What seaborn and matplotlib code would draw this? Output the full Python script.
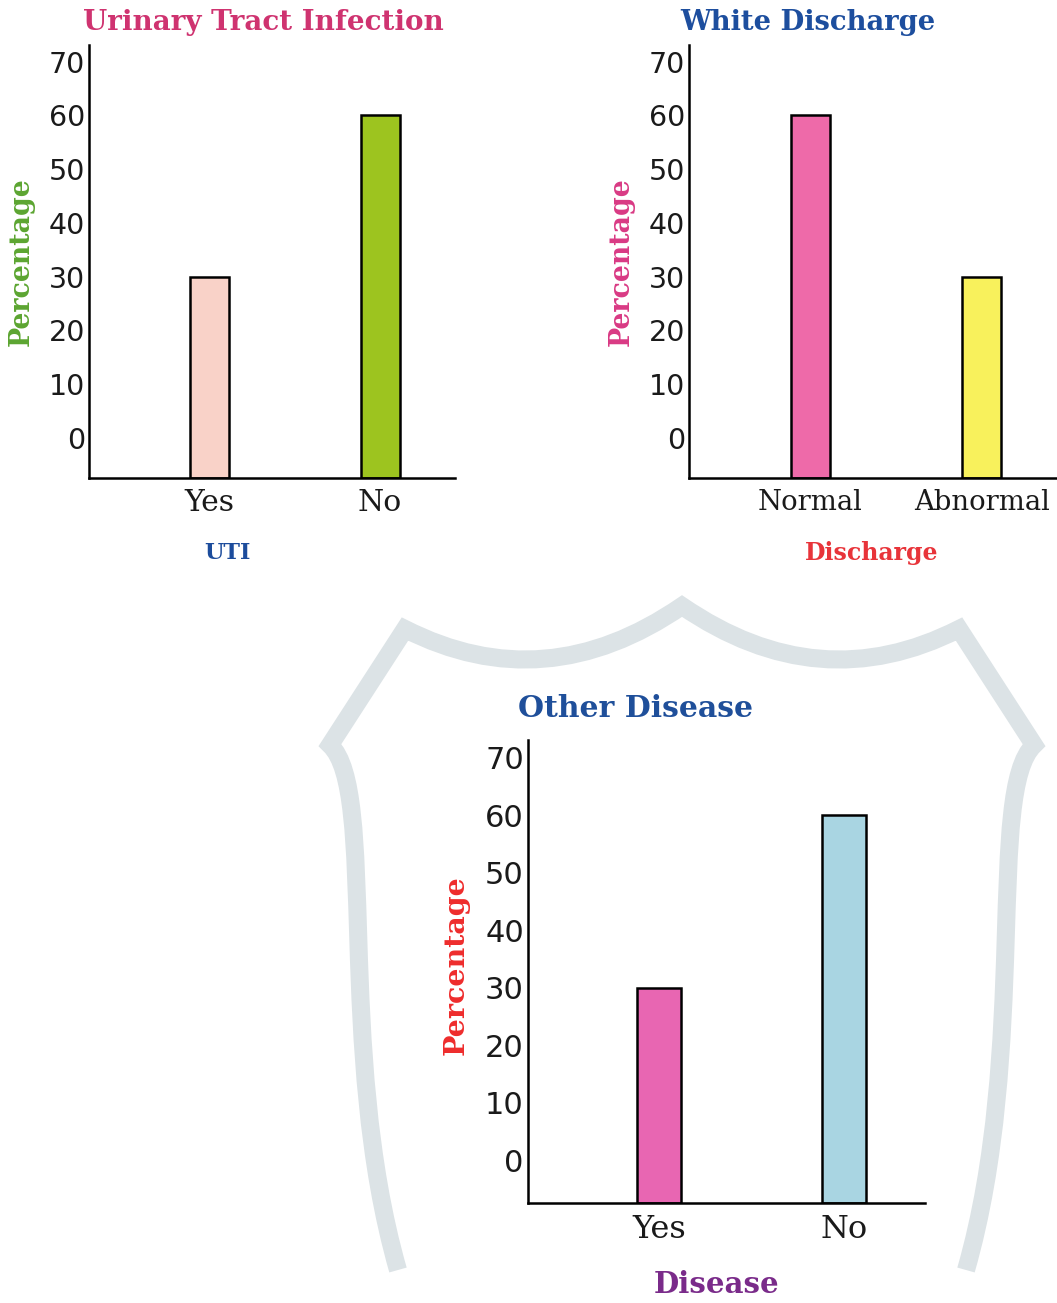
import matplotlib
matplotlib.use("Agg")
import matplotlib.pyplot as plt
import seaborn as sns
from matplotlib.path import Path
from matplotlib.patches import PathPatch

# data
uti_labels = ["Yes", "No"]
uti_values = [30, 60]
uti_colors = ["#f9d2c8", "#9dc41f"]

discharge_labels = ["Normal", "Abnormal"]
discharge_values = [60, 30]
discharge_colors = ["#ee6aa9", "#f8f15c"]

disease_labels = ["Yes", "No"]
disease_values = [30, 60]
disease_colors = ["#e866b2", "#a9d5e2"]

y_ticks = [0, 10, 20, 30, 40, 50, 60, 70]

W, H = 1057, 1303
sns.set_style("white")
fig = plt.figure(figsize=(W / 100, H / 100), dpi=100)


def px_axes(left, top, right, bottom):
    return fig.add_axes([left / W, 1 - bottom / H, (right - left) / W, (bottom - top) / H])


# light grey shield watermark behind the lower chart
def shield():
    def p(x, y):
        return (x / W, 1 - y / H)

    def m(x, y):
        return p(1364 - x, y)

    verts = [p(398, 1270), p(335, 1050), p(378, 790), p(330, 745),
             p(405, 629), p(545, 700), p(682, 606),
             m(545, 700), m(405, 629), m(330, 745),
             m(378, 790), m(335, 1050), m(398, 1270)]
    codes = [Path.MOVETO, Path.CURVE4, Path.CURVE4, Path.CURVE4,
             Path.LINETO, Path.CURVE3, Path.CURVE3,
             Path.CURVE3, Path.CURVE3, Path.LINETO,
             Path.CURVE4, Path.CURVE4, Path.CURVE4]
    patch = PathPatch(Path(verts, codes), transform=fig.transFigure, fill=False,
                      edgecolor="#dce3e6", lw=13, zorder=-5, capstyle="butt")
    fig.add_artist(patch)


shield()

YMIN, YMAX = -7.45, 73.1


def bar_panel(ax, labels, values, colors, width, sizes, title, title_color, title_xy,
              xlabel, xlabel_color, xlabel_xy, ylabel_color, ylabel_xy):
    ytick_fs, xtick_fs, title_fs, xlab_fs, ylab_fs = sizes
    heights = [v - YMIN for v in values]
    sns.barplot(x=labels, y=heights, hue=labels, palette=colors, legend=False,
                width=width, saturation=1, edgecolor="black", linewidth=1.8,
                bottom=YMIN, errorbar=None, ax=ax)
    ax.set_ylim(YMIN, YMAX)
    ax.set_xlim(-0.71, 1.44)
    ax.set_yticks(y_ticks)
    ax.set_yticklabels([str(t) for t in y_ticks], fontsize=ytick_fs, family="DejaVu Sans",
                       color="#1a1a1a")
    ax.set_xticks(range(len(labels)))
    ax.set_xticklabels(labels, fontsize=xtick_fs, family="DejaVu Serif", color="#1a1a1a")
    ax.tick_params(axis="y", direction="inout", length=6, width=1.2, pad=0)
    ax.tick_params(axis="x", length=0, pad=8)
    for s in ["top", "right"]:
        ax.spines[s].set_visible(False)
    for s in ["left", "bottom"]:
        ax.spines[s].set_linewidth(1.8)
        ax.spines[s].set_color("black")
    ax.set_title(title, x=title_xy[0], y=title_xy[1], pad=0, va="center",
                 fontsize=title_fs, fontweight="bold", family="DejaVu Serif",
                 color=title_color)
    ax.set_xlabel(xlabel, fontsize=xlab_fs, fontweight="bold", family="DejaVu Serif",
                  color=xlabel_color)
    ax.xaxis.set_label_coords(*xlabel_xy)
    ax.xaxis.label.set_va("center")
    ax.set_ylabel("Percentage", fontsize=ylab_fs, fontweight="bold", family="DejaVu Serif",
                  color=ylabel_color)
    ax.yaxis.set_label_coords(*ylabel_xy)
    ax.yaxis.label.set_va("center")


ax1 = px_axes(89, 45, 455, 478)
bar_panel(ax1, uti_labels, uti_values, uti_colors, 0.23, (20.5, 21.5, 20, 16, 19.3),
          "Urinary Tract Infection", "#cf3370", (0.476, 1.053),
          "UTI", "#1c4c9c", (0.377, -0.173), "#5ca531", (-0.185, 0.50))

ax2 = px_axes(689, 45, 1057, 478)
bar_panel(ax2, discharge_labels, discharge_values, discharge_colors, 0.23,
          (20.5, 19.8, 19.7, 17, 19.3),
          "White Discharge", "#1d4e9e", (0.323, 1.053),
          "Discharge", "#e8343a", (0.497, -0.173), "#d93a84", (-0.184, 0.50))

ax3 = px_axes(528, 740, 925, 1203)
bar_panel(ax3, disease_labels, disease_values, disease_colors, 0.24,
          (22, 23, 21.5, 21, 20.5),
          "Other Disease", "#1f4f9a", (0.272, 1.069),
          "Disease", "#7a2b8a", (0.474, -0.177), "#ee2c2c", (-0.181, 0.514))

fig.savefig("out.png", dpi=100, facecolor="white")
